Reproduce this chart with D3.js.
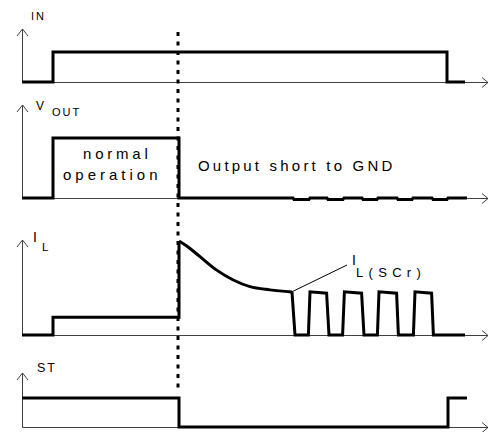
<!DOCTYPE html>
<html><head><meta charset="utf-8">
<script src="https://cdn.jsdelivr.net/npm/d3@7"></script>
<style>body{margin:0;background:#fff}svg{display:block}text{font-family:"Liberation Sans",Arial,sans-serif;fill:#000}</style>
</head><body>
<svg id="c" width="489" height="432"></svg>
<script>
// ---- data (time in arbitrary units, levels normalised per trace) ----
const signalNames = ["IN", "VOUT", "IL", "ST"];
const shortTime = 78;          // moment of the output short (dotted marker)

const inT  = [0, 15.5, 15.5, 212.5, 212.5, 221.5];
const inV  = [0, 0, 1, 1, 0, 0];

const voutT = [0, 15.5, 15.5, 78.5, 78.5,
  135.5, 136, 143.5, 144, 152.5, 153, 160.5, 161, 170, 170.5, 177.5, 178,
  187.5, 188, 195, 195.5, 205, 205.5, 212.5, 213, 222.5];
const voutV = [0, 0, 1, 1, 0,
  0, -0.025, -0.025, 0, 0, -0.025, -0.025, 0, 0, -0.025, -0.025, 0,
  0, -0.025, -0.025, 0, 0, -0.025, -0.025, 0, 0];

const ilStepT = [0, 15.5, 15.5, 78.5, 78.5];
const ilStepV = [0, 0, 0.19, 0.19, 1.0];
const ilDecayT = [78.5, 82.35, 89, 97.35, 105.65, 114, 124, 135];
const ilDecayV = [1.0, 0.947, 0.833, 0.69, 0.585, 0.514, 0.48, 0.457];
const ilPulseT = [135, 136.5, 143.2, 144, 152.3, 153.5, 160.3, 161.2, 169.8, 171,
  177.7, 178.5, 187.3, 188.2, 195.7, 196.5, 204.8, 205.7, 221.5];
const ilPulseV = [0.457, 0, 0, 0.46, 0.445, 0, 0, 0.46, 0.445, 0,
  0, 0.46, 0.445, 0, 0, 0.46, 0.445, 0, 0];

const stT = [0, 78.5, 78.5, 213, 213, 222.5];
const stV = [1, 1, 0, 0, 1, 1];

const labelIN = "IN", labelV = "V", labelOUT = "OUT", labelI = "I", labelL = "L";
const labelST = "ST", labelSCr = "L(SCr)";
const textNormal = ["normal", "operation"];
const textShort = "Output short to GND";

// ---- layout ----
const svg = d3.select("#c");
const x = d3.scaleLinear().domain([0, 233]).range([22, 488]);
const panels = {
  IN:   {y: d3.scaleLinear().domain([0, 1]).range([82, 52]),    top: 29},
  VOUT: {y: d3.scaleLinear().domain([0, 1]).range([198, 138]),  top: 105},
  IL:   {y: d3.scaleLinear().domain([0, 1]).range([335, 241]),  top: 240},
  ST:   {y: d3.scaleLinear().domain([0, 1]).range([427, 398]),  top: 373}
};

// axes
const axG = svg.append("g").attr("stroke", "#404040").attr("stroke-width", 1).attr("fill", "none");
signalNames.forEach(n => {
  const p = panels[n], b = p.y(0) + 0.5, x0 = x(0) + 0.5, xe = x(233);
  axG.append("path").attr("d", `M${x0},${b}V${p.top}M${x0 - 5.5},${p.top + 7}L${x0},${p.top}L${x0 + 5.5},${p.top + 7}`);
  axG.append("path").attr("d", `M${x0},${b}H${xe}M${xe - 6},${b - 5}L${xe},${b}L${xe - 6},${b + 5}`);
});

// dotted marker
svg.append("line").attr("x1", x(shortTime)).attr("x2", x(shortTime)).attr("y1", 32).attr("y2", 393)
  .attr("stroke", "#000").attr("stroke-width", 3).attr("stroke-dasharray", "4,5.5");

// traces
const trace = (ts, vs, sc, curve) => d3.line().x(d => x(d[0])).y(d => sc(d[1])).curve(curve || d3.curveLinear)(ts.map((t, i) => [t, vs[i]]));
const tg = svg.append("g").attr("fill", "none").attr("stroke", "#000").attr("stroke-width", 3)
  .attr("stroke-linejoin", "miter").attr("stroke-linecap", "butt");
tg.append("path").attr("d", trace(inT, inV, panels.IN.y));
tg.append("path").attr("d", trace(voutT, voutV, panels.VOUT.y));
tg.append("path").attr("d", trace(ilStepT, ilStepV, panels.IL.y));
tg.append("path").attr("d", trace(ilDecayT, ilDecayV, panels.IL.y, d3.curveMonotoneX));
tg.append("path").attr("d", trace(ilPulseT, ilPulseV, panels.IL.y));
tg.append("path").attr("d", trace(stT, stV, panels.ST.y));

// leader line for IL(SCr)
svg.append("line").attr("x1", x(135)).attr("y1", panels.IL.y(0.46)).attr("x2", 347).attr("y2", 265)
  .attr("stroke", "#000").attr("stroke-width", 1);

// labels
const txt = (s, xx, yy, fs, ls, anchor) => svg.append("text").attr("x", xx).attr("y", yy)
  .attr("font-size", fs).attr("letter-spacing", ls || 0).attr("text-anchor", anchor || "start").text(s);
txt(labelIN, 31, 20, 11, 2);
txt(labelV, 36, 110, 12, 0);
txt(labelOUT, 52, 116, 11, 2);
txt(labelI, 33, 242, 14, 0);
txt(labelL, 42, 251, 11.5, 0);
txt(labelST, 37, 372, 12.5, 2);
txt(labelI, 352, 265, 14, 0);
txt(labelSCr, 356, 277, 13, 5.3);
txt(textNormal[0], 83, 159, 15, 3.8);
txt(textNormal[1], 63, 180, 15, 4);
txt(textShort, 198, 171, 15, 3.2);
</script>
</body></html>
